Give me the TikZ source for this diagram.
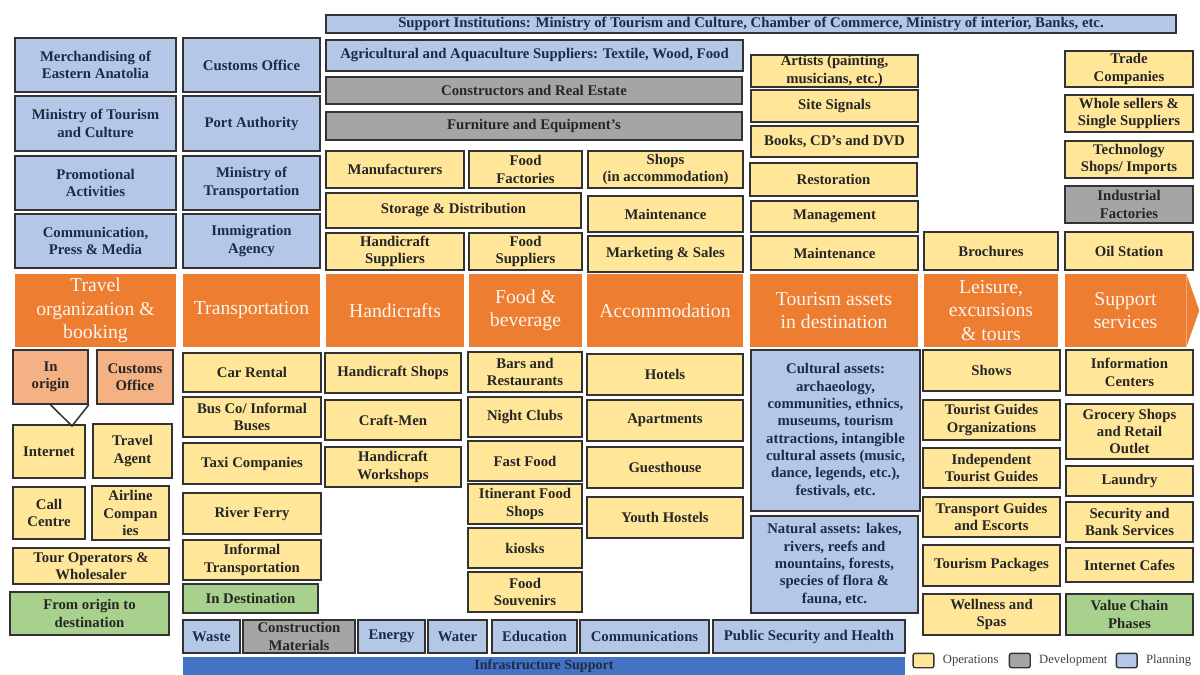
\documentclass[tikz,border=0pt]{standalone}
\usepackage{fontspec}
\setmainfont{Liberation Serif}
\usetikzlibrary{positioning,calc}
\definecolor{opfill}{HTML}{FFE699}
\definecolor{devfill}{HTML}{A5A5A5}
\definecolor{planfill}{HTML}{B4C7E7}
\definecolor{phasefill}{HTML}{A9D18E}
\definecolor{origfill}{HTML}{F4B183}
\definecolor{headfill}{HTML}{ED7D31}
\definecolor{infrafill}{HTML}{4472C4}
\definecolor{navytext}{HTML}{1F2A44}
\begin{document}
\begin{tikzpicture}[x=0.025cm,y=-0.025cm,
  sz/.style 2 args={minimum width=#1*0.025cm,minimum height=#2*0.025cm},
  cell/.style={draw=black!80,line width=1.1pt,inner sep=0pt,align=center,font=\fontsize{10.5}{12.3}\selectfont\bfseries},
  op/.style={cell,fill=opfill,text=black!85},
  dev/.style={cell,fill=devfill,text=black!85},
  plan/.style={cell,fill=planfill,text=navytext},
  phase/.style={cell,fill=phasefill,text=black!85},
  orig/.style={cell,fill=origfill,text=black!85},
  infra/.style={inner sep=0pt,fill=infrafill,text=navytext,font=\fontsize{10}{12}\selectfont\bfseries},
  head/.style={fill=headfill,inner sep=0pt,align=center,text=white!92!headfill,font=\fontsize{14}{16.6}\selectfont},
  legbox/.style={draw=black!80,line width=1pt,rounded corners=1.5pt,minimum width=0.52cm,minimum height=0.36cm,inner sep=0pt},
  legtext/.style={inner sep=0pt,text=black!75,font=\fontsize{9}{10}\selectfont}]
\useasboundingbox (0,0) rectangle (1200,675);
\node[plan,sz={850}{18}] (inst) at (751,24) {Support Institutions: Ministry of Tourism and Culture, Chamber of Commerce, Ministry of interior, Banks, etc.};
% planning columns on the left
\node[plan,sz={161}{54}] (merch) at (95.5,65) {Merchandising of\\Eastern Anatolia};
\node[plan,sz={161}{55}] (mintour) at (95.5,123.5) {Ministry of Tourism\\and Culture};
\node[plan,sz={161}{54}] (promo) at (95.5,183) {Promotional\\Activities};
\node[plan,sz={161}{54}] (press) at (95.5,241) {Communication,\\Press \& Media};
\node[plan,sz={137}{54}] (customs) at (251.5,65) {Customs Office};
\node[plan,sz={137}{55}] (port) at (251.5,123.5) {Port Authority};
\node[plan,sz={137}{54}] (mintrans) at (251.5,183) {Ministry of\\Transportation};
\node[plan,sz={137}{54}] (immig) at (251.5,241) {Immigration\\Agency};
% suppliers
\node[plan,sz={417}{31}] (agri) at (534.5,55.5) {Agricultural and Aquaculture Suppliers: Textile, Wood, Food};
\node[dev,sz={416}{27}] (constr) at (534,90.5) {Constructors and Real Estate};
\node[dev,sz={416}{28}] (furn) at (534,126) {Furniture and Equipment's};
\node[op,sz={138}{37}] (manuf) at (395,169.5) {Manufacturers};
\node[op,sz={113}{37}] (foodfact) at (525.5,169.5) {Food\\Factories};
\node[op,sz={155}{37}] (shops) at (665.5,169.5) {Shops\\(in accommodation)};
\node[op,sz={255}{35}] (storage) at (453.5,210.5) {Storage \& Distribution};
\node[op,sz={155}{36}] (maint) at (665.5,214) {Maintenance};
\node[op,sz={138}{37}] (hcsupp) at (395,251.5) {Handicraft\\Suppliers};
\node[op,sz={113}{37}] (foodsupp) at (525.5,251.5) {Food\\Suppliers};
\node[op,sz={155}{36}] (market) at (665.5,254) {Marketing \& Sales};
\node[op,sz={167}{32}] (artists) at (834.5,71) {Artists (painting,\\musicians, etc.)};
\node[op,sz={167}{32}] (signals) at (834.5,106) {Site Signals};
\node[op,sz={167}{31}] (books) at (834.5,141.5) {Books, CD's and DVD};
\node[op,sz={167}{33}] (restor) at (833.5,179.5) {Restoration};
\node[op,sz={167}{31}] (manage) at (834.5,216.5) {Management};
\node[op,sz={167}{34}] (maintb) at (834.5,253) {Maintenance};
\node[op,sz={134}{38}] (broch) at (991,251) {Brochures};
\node[op,sz={128}{36}] (trade) at (1129,69) {Trade\\Companies};
\node[op,sz={128}{37}] (whole) at (1129,113.5) {Whole sellers \&\\Single Suppliers};
\node[op,sz={128}{37}] (tech) at (1129,159.5) {Technology\\Shops/ Imports};
\node[dev,sz={128}{37}] (indus) at (1129,204.5) {Industrial\\Factories};
\node[op,sz={128}{38}] (oil) at (1129,251) {Oil Station};
% value chain phases
\node[head,sz={161}{73}] (travel) at (95.5,310.5) {Travel\\organization \&\\booking};
\node[head,sz={137}{73}] (transp) at (251.5,310.5) {Transportation};
\node[head,sz={138}{73}] (handi) at (395,310.5) {Handicrafts};
\node[head,sz={113}{73}] (food) at (525.5,310.5) {Food \&\\beverage};
\node[head,sz={156}{73}] (accom) at (665,310.5) {Accommodation};
\node[head,sz={168}{73}] (assets) at (834,310.5) {Tourism assets\\in destination};
\node[head,sz={134}{73}] (leisure) at (991,310.5) {Leisure,\\excursions\\\& tours};
\node[head,sz={121}{73}] (support) at (1125.5,310.5) {Support\\services};
\fill[headfill] (support.north east) -- ($(support.east)+(13,0)$) -- (support.south east) -- cycle;
% operations below the phases
\node[orig,sz={75}{54}] (inorigin) at (50.5,377) {In\\origin};
\node[orig,sz={76}{54}] (customsb) at (135,377) {Customs\\Office};
\node[op,sz={72}{53}] (internet) at (49,451.5) {Internet};
\node[op,sz={79}{54}] (agent) at (132.5,451) {Travel\\Agent};
\node[op,sz={72}{52}] (call) at (49,513) {Call\\Centre};
\node[op,sz={77}{54}] (airline) at (130.5,513) {Airline\\Compan\\ies};
\node[op,sz={156}{36}] (tourop) at (91,566) {Tour Operators \&\\Wholesaler};
\node[phase,sz={159}{43}] (fromorig) at (89.5,613.5) {From origin to\\destination};
\coordinate (tip) at (72,426);
\draw[draw=black!80,line width=1.1pt] (inorigin.south) -- (tip) -- (inorigin.south east);
\node[op,sz={138}{39}] (car) at (252,372.5) {Car Rental};
\node[op,sz={138}{40}] (bus) at (252,417) {Bus Co/ Informal\\Buses};
\node[op,sz={138}{41}] (taxi) at (252,463.5) {Taxi Companies};
\node[op,sz={138}{41}] (ferry) at (252,513.5) {River Ferry};
\node[op,sz={138}{40}] (informal) at (252,560) {Informal\\Transportation};
\node[phase,sz={135}{29}] (indest) at (250.5,598.5) {In Destination};
\node[op,sz={136}{40}] (hcshops) at (393,373) {Handicraft Shops};
\node[op,sz={136}{40}] (craft) at (393,420) {Craft-Men};
\node[op,sz={136}{40}] (hcwork) at (393,467) {Handicraft\\Workshops};
\node[op,sz={114}{40}] (bars) at (525,372) {Bars and\\Restaurants};
\node[op,sz={114}{40}] (night) at (525,417) {Night Clubs};
\node[op,sz={114}{40}] (fast) at (525,461) {Fast Food};
\node[op,sz={114}{40}] (itin) at (525,504) {Itinerant Food\\Shops};
\node[op,sz={114}{40}] (kiosk) at (525,548) {kiosks};
\node[op,sz={114}{40}] (souv) at (525,592) {Food\\Souvenirs};
\node[op,sz={156}{41}] (hotels) at (665,374.5) {Hotels};
\node[op,sz={156}{41}] (apart) at (665,420.5) {Apartments};
\node[op,sz={156}{41}] (guest) at (665,467.5) {Guesthouse};
\node[op,sz={156}{41}] (youth) at (665,517.5) {Youth Hostels};
\node[plan,sz={169}{161}] (cultural) at (835.5,430.5) {Cultural assets:\\archaeology,\\communities, ethnics,\\museums, tourism\\attractions, intangible\\cultural assets (music,\\dance, legends, etc.),\\festivals, etc.};
\node[plan,sz={167}{97}] (natural) at (834.5,564.5) {Natural assets: lakes,\\rivers, reefs and\\mountains, forests,\\species of flora \&\\fauna, etc.};
\node[op,sz={137}{41}] (shows) at (991.5,370.5) {Shows};
\node[op,sz={137}{40}] (guideorg) at (991.5,420) {Tourist Guides\\Organizations};
\node[op,sz={137}{40}] (indep) at (991.5,468) {Independent\\Tourist Guides};
\node[op,sz={137}{40}] (transguide) at (991.5,517) {Transport Guides\\and Escorts};
\node[op,sz={137}{41}] (packages) at (991.5,565.5) {Tourism Packages};
\node[op,sz={137}{41}] (wellness) at (991.5,614.5) {Wellness and\\Spas};
\node[op,sz={127}{45}] (info) at (1129.5,372.5) {Information\\Centers};
\node[op,sz={127}{55}] (grocery) at (1129.5,431.5) {Grocery Shops\\and Retail\\Outlet};
\node[op,sz={127}{30}] (laundry) at (1129.5,481) {Laundry};
\node[op,sz={127}{40}] (security) at (1129.5,522) {Security and\\Bank Services};
\node[op,sz={127}{34}] (cafes) at (1129.5,565) {Internet Cafes};
\node[phase,sz={127}{41}] (phases) at (1129.5,614.5) {Value Chain\\Phases};
% infrastructure
\node[plan,sz={57}{33}] (waste) at (211.5,636.5) {Waste};
\node[dev,sz={112}{33}] (cmat) at (299,636.5) {Construction\\Materials};
\node[plan,sz={67}{33}] (energy) at (391.5,636.5) {Energy};
\node[plan,sz={59}{33}] (water) at (457.5,636.5) {Water};
\node[plan,sz={85}{33}] (edu) at (534.5,636.5) {Education};
\node[plan,sz={129}{33}] (comm) at (644.5,636.5) {Communications};
\node[plan,sz={192}{33}] (health) at (809,636.5) {Public Security and Health};
\node[infra,sz={722}{18}] (infrasup) at (544,666) {Infrastructure Support};
% legend
\node[legbox,fill=opfill] (kop) at (923.5,660.5) {};
\node[legtext,right=2mm of kop] (lop) {Operations};
\node[legbox,fill=devfill,right=2.5mm of lop] (kdev) {};
\node[legtext,right=2mm of kdev] (ldev) {Development};
\node[legbox,fill=planfill,right=2mm of ldev] (kplan) {};
\node[legtext,right=2mm of kplan] (lplan) {Planning};
\end{tikzpicture}
\end{document}
